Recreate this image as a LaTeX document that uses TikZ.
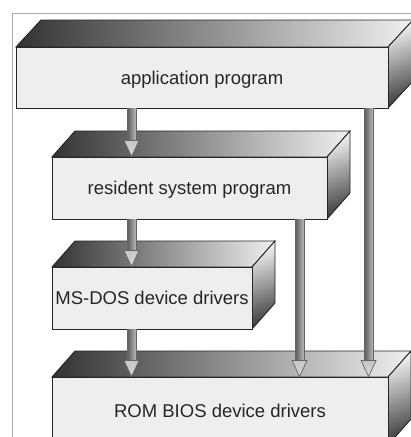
\documentclass[tikz,border=0pt]{standalone}
\usepackage{fontspec}
\setmainfont{Liberation Sans}
\usetikzlibrary{calc}
\tikzset{
  front/.style={draw=black!85, line width=0.9pt, fill=gray!13, inner sep=0pt,
    font=\fontsize{18.5}{22}\selectfont, text=black!85, text depth=0pt},
  topface/.style={draw=black!85, line width=0.9pt, left color=black!80, right color=gray!12},
  sideface/.style={draw=black!85, line width=0.9pt, top color=gray!10, bottom color=black!75, shading angle=20},
  shaft/.style={left color=black!65, right color=gray!55},
  shaftedge/.style={draw=black!60, line width=0.5pt},
  head/.style={draw=black!60, line width=0.7pt, top color=gray!45, bottom color=gray!30},
  frame/.style={draw=gray!65, line width=0.9pt}
}
% name, x1, y1, x2, y2, dx, dy, text
\newcommand\solidblock[8]{%
  \shade[topface] ({#2},{#3}) -- ({#2+#6},{#3-#7}) -- ({#4+#6},{#3-#7}) -- ({#4},{#3}) -- cycle;
  \shade[sideface] ({#4},{#3}) -- ({#4+#6},{#3-#7}) -- ({#4+#6},{#5-#7}) -- ({#4},{#5}) -- cycle;
  \node[front, minimum width={#4-#2}, minimum height={#5-#3}] (#1) at ({(#2+#4)/2},{(#3+#5)/2}) {#8};
}
\newcommand\blockarrow[2]{%
  \shade[shaft] ($(#1)+(-4.5,0)$) rectangle ($(#2)+(4.5,-15)$);
  \draw[shaftedge] ($(#1)+(-4.5,0)$) -- ($(#2)+(-4.5,-15)$) ($(#1)+(4.5,0)$) -- ($(#2)+(4.5,-15)$);
  \shade[head] ($(#2)+(-7.5,-16)$) -- (#2) -- ($(#2)+(7.5,-16)$) -- cycle;
}
\begin{document}
\begin{tikzpicture}[x=1pt, y=-1pt]
  \useasboundingbox (0,0) rectangle (411,437);
  \clip (0,0) rectangle (411,437);
  \fill[white] (0,0) rectangle (411,437);
  \draw[frame] (12,440) -- (12,13) -- (415,13);

  \solidblock{app}{16}{47}{388}{108}{25}{27}{application program}
  \solidblock{rom}{52}{377}{388}{445}{23}{26}{ROM BIOS device drivers}
  \solidblock{ms}{52}{267}{252}{329}{23}{26}{MS-DOS device drivers}
  \solidblock{res}{52}{157}{327}{219}{23}{26}{resident system program}

  \coordinate (a1s) at ($(app.south west)+(116,0)$);
  \coordinate (a1e) at ($(res.north west)+(80,0)$);
  \coordinate (a2s) at ($(res.south west)+(80,0)$);
  \coordinate (a2e) at ($(ms.north west)+(80,0)$);
  \coordinate (a3s) at ($(ms.south west)+(80,0)$);
  \coordinate (a3e) at ($(rom.north west)+(80,0)$);
  \coordinate (a4s) at ($(res.south west)+(248,0)$);
  \coordinate (a4e) at ($(rom.north west)+(248,0)$);
  \coordinate (a5s) at ($(app.south west)+(353,0)$);
  \coordinate (a5e) at ($(rom.north west)+(317,0)$);

  \blockarrow{a1s}{a1e}
  \blockarrow{a2s}{a2e}
  \blockarrow{a3s}{a3e}
  \blockarrow{a4s}{a4e}
  \blockarrow{a5s}{a5e}
\end{tikzpicture}
\end{document}
